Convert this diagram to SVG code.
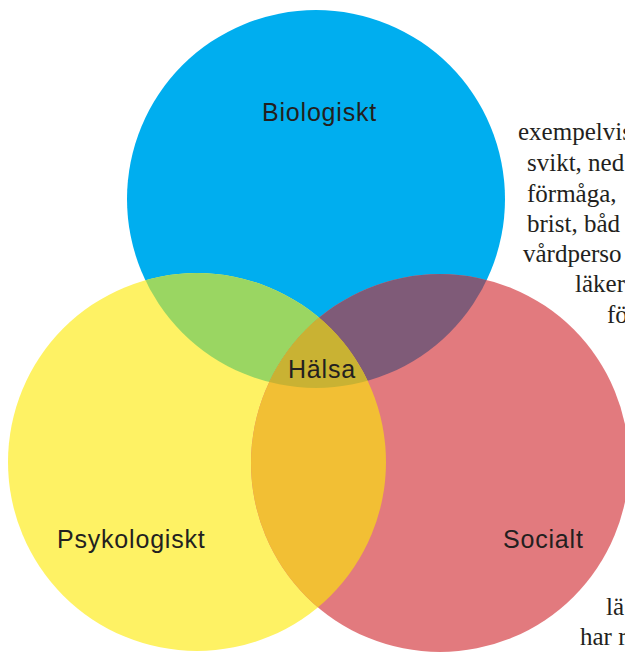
<svg xmlns="http://www.w3.org/2000/svg" width="625" height="652" viewBox="0 0 625 652">
  <style>
    .lbl { font-family: "Liberation Sans", "Noto Sans", Arial, sans-serif; font-size: 25px; letter-spacing: 0.8px; fill: #231F20; }
    .body { font-family: "Liberation Serif", "DejaVu Serif", serif; font-size: 25px; fill: #231F20; }
  </style>
  <defs>
    <clipPath id="cBlue"><circle cx="316" cy="199" r="189"/></clipPath>
    <clipPath id="cYellow"><circle cx="197" cy="462" r="189"/></clipPath>
    <clipPath id="cRed"><circle cx="440" cy="463" r="189"/></clipPath>
  </defs>
  <rect width="625" height="652" fill="#ffffff"/>
  <g id="background-text">
    <text class="body" x="518" y="140">exempelvis</text>
    <text class="body" x="527" y="171">svikt, ned</text>
    <text class="body" x="527" y="202">förmåga,</text>
    <text class="body" x="527" y="232">brist, båd</text>
    <text class="body" x="523" y="262">vårdperso</text>
    <text class="body" x="575" y="292">läker</text>
    <text class="body" x="607" y="323">fö</text>
    <text class="body" x="606" y="615">lä</text>
    <text class="body" x="580" y="645">har r</text>
  </g>
  <g id="biologiskt">
    <circle cx="316" cy="199" r="189" fill="#00AEEF"/>
  </g>
  <g id="psykologiskt">
    <circle cx="197" cy="462" r="189" fill="#FEF264"/>
  </g>
  <g id="socialt">
    <circle cx="440" cy="463" r="189" fill="#E27A7E"/>
  </g>
  <g id="overlaps">
    <circle cx="316" cy="199" r="189" fill="#9AD662" clip-path="url(#cYellow)"/>
    <circle cx="316" cy="199" r="189" fill="#7F5B78" clip-path="url(#cRed)"/>
    <circle cx="197" cy="462" r="189" fill="#F2BF34" clip-path="url(#cRed)"/>
    <g clip-path="url(#cBlue)">
      <circle cx="197" cy="462" r="189" fill="#C9B233" clip-path="url(#cRed)"/>
    </g>
  </g>
  <g id="labels">
    <text class="lbl" x="262" y="121">Biologiskt</text>
    <text class="lbl" x="57" y="548">Psykologiskt</text>
    <text class="lbl" x="503" y="548">Socialt</text>
    <text class="lbl" x="288" y="378">Hälsa</text>
  </g>
</svg>
